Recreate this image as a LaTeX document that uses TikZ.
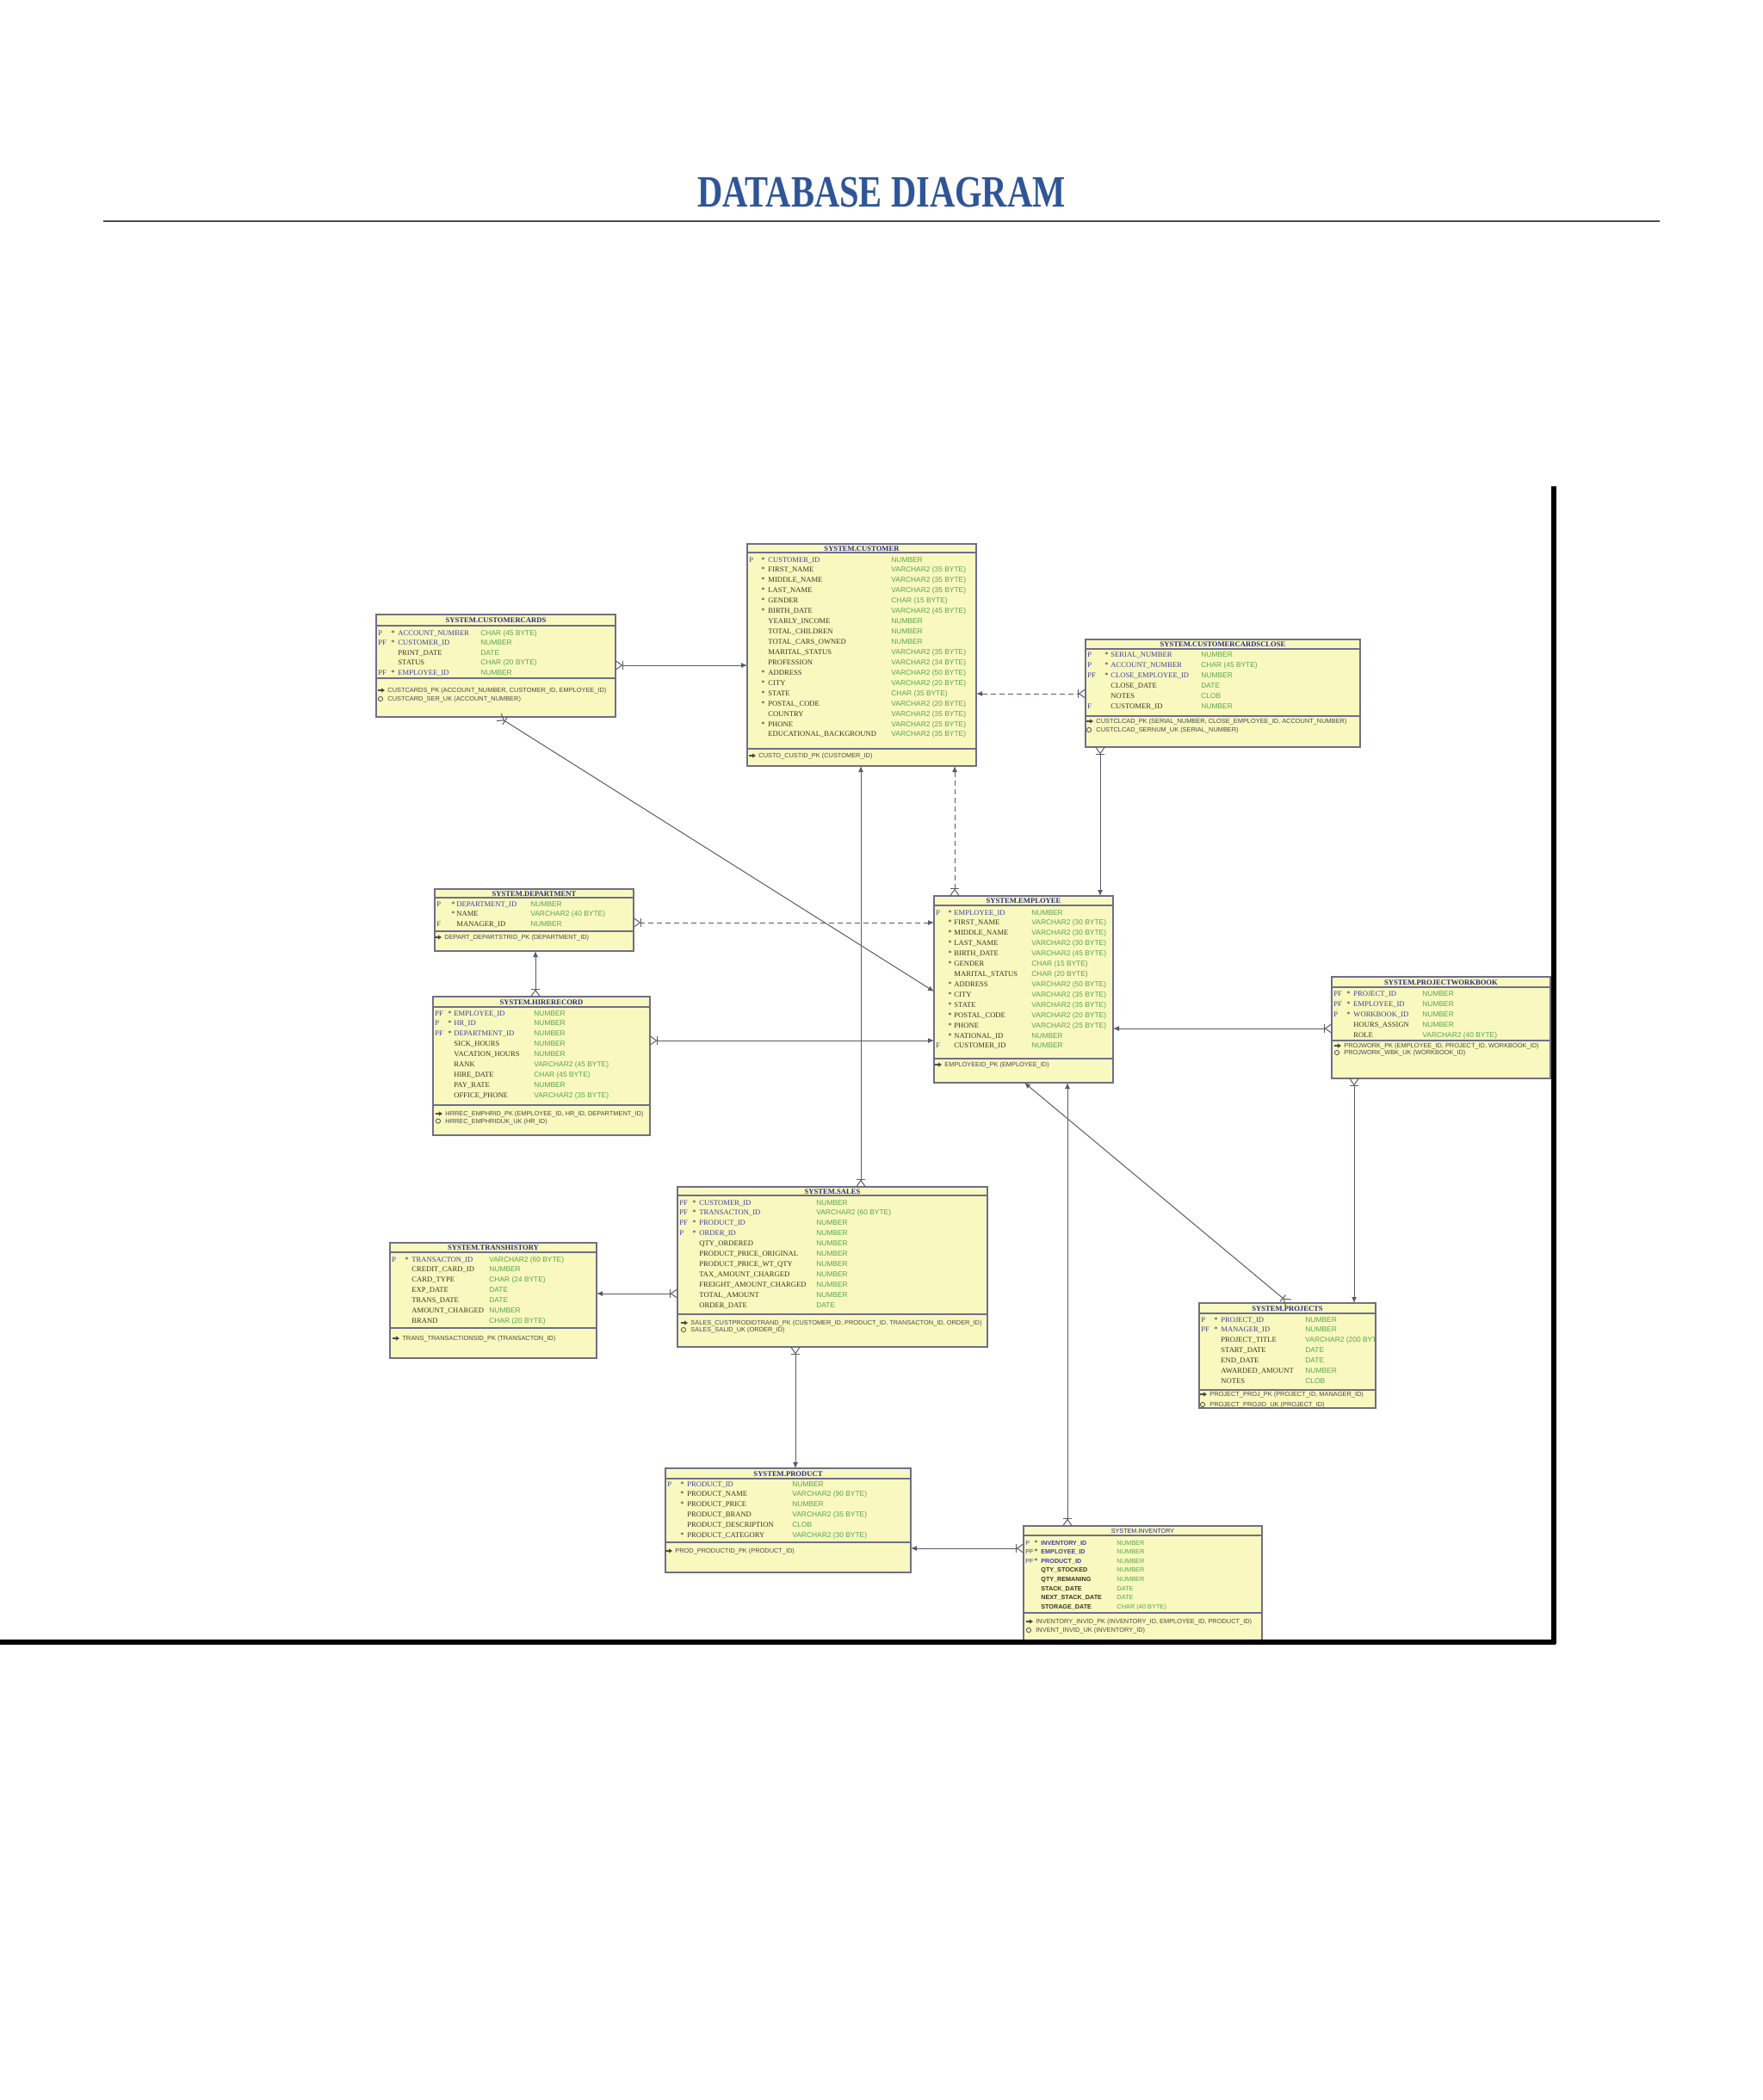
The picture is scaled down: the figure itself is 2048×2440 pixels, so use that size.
\documentclass[tikz,border=0pt]{standalone}
\usepackage{fontspec}
\setmainfont{Liberation Serif}
\setsansfont{Liberation Sans}
\usepackage{graphicx}
\usetikzlibrary{arrows.meta,fit,calc}
\definecolor{fillc}{HTML}{F9F9BF}
\definecolor{bordc}{HTML}{6E6E8C}
\definecolor{ttlc}{HTML}{2A2A8C}
\definecolor{colk}{HTML}{4040A0}
\definecolor{coln}{HTML}{3A3424}
\definecolor{typec}{HTML}{56A64A}
\definecolor{keyc}{HTML}{4A4A4A}
\definecolor{linec}{HTML}{5A5A6A}
\definecolor{pagetitlec}{HTML}{2F5597}
\tikzset{
  tblbox/.style={draw=bordc, fill=fillc, line width=0.6pt, inner sep=0pt, outer sep=0pt, rectangle},
  tblline/.style={draw=bordc, line width=0.6pt},
  ttl/.style={font=\fontsize{4.3}{5}\selectfont\bfseries, text=ttlc, inner sep=0pt},
  flag/.style={anchor=base west, inner sep=0pt, font=\fontsize{4.3}{5}\selectfont, text=colk},
  star/.style={anchor=base west, inner sep=0pt, font=\fontsize{4.3}{5}\selectfont, text=coln},
  fname/.style={anchor=base west, inner sep=0pt, font=\fontsize{4.3}{5}\selectfont},
  ftype/.style={anchor=base west, inner sep=0pt, font=\sffamily\fontsize{4.2}{5}\selectfont, text=typec},
  keyt/.style={anchor=base west, inner sep=0pt, font=\sffamily\fontsize{3.7}{4.5}\selectfont, text=keyc},
  rel/.style={draw=linec, line width=0.5pt, {Latex[length=3.5pt,width=3pt]}-{Bar[width=5pt] Straight Barb[reversed,length=3.5pt,width=5pt]}},
  reldash/.style={rel, dash pattern=on 3pt off 2pt},
}
\newcommand\tablebox[8]{%
  \node[tblbox, fit={(#2,#3) (#4,#5)}] (#1) {};
  \draw[tblline] (#2,#6) -- (#4,#6);
  \draw[tblline] (#2,#7) -- (#4,#7);
  \node[ttl] (#1title) at ({(#2+#4)/2},{(#3+#6)/2+0.5}) {#8};
}
\newcommand\rows[8]{%
  \foreach \c/\f/\s/\n/\t [count=\i] in {#8}{%
    \pgfmathsetmacro\yy{#6+(\i-1)*#7+3}%
    \node[flag] (#1f\i) at (#2,\yy) {\f};
    \node[star] (#1s\i) at (#3,\yy) {\s};
    \node[fname, text=col\c] (#1n\i) at (#4,\yy) {\n};
    \node[ftype] (#1t\i) at (#5,\yy) {\t};
  }}
\newcommand\iconpk[2]{%
  \fill[keyc] (#1,#2-1.2) rectangle (#1+5,#2+1.2);
  \fill[keyc] (#1+4,#2-2.6) -- (#1+8,#2) -- (#1+4,#2+2.6) -- cycle;}
\newcommand\iconuk[2]{%
  \draw[keyc, line width=0.4pt] (#1+3,#2) circle[radius=1.3pt];}
\newcommand\keyrows[5]{%
  \foreach \k/\txt [count=\i] in {#5}{%
    \pgfmathsetmacro\yy{#3+(\i-1)*#4}%
    \csname icon\k\endcsname{#2}{\yy}
    \node[keyt] (#1k\i) at (#2+11,\yy+2.7) {\txt};
  }}
\begin{document}
\begin{tikzpicture}[x=0.5pt,y=-0.5pt]
\useasboundingbox (0,0) rectangle (2048,2440);

% page title
\node[font=\fontsize{26}{30}\selectfont\bfseries, text=pagetitlec, inner sep=0pt] (pagetitle) at (1024,224) {\scalebox{0.78}[1]{DATABASE DIAGRAM}};
\draw[black!70, line width=0.6pt] (120,257) coordinate (rulea) -- (1928,257) coordinate (ruleb);

% CUSTOMERCARDS
\tablebox{cards}{437}{714}{715}{833}{727}{788}{SYSTEM.CUSTOMERCARDS}
\rows{cards}{439}{454}{462}{558}{735}{11.5}{k/P/*/ACCOUNT\_NUMBER/CHAR (45 BYTE), k/PF/*/CUSTOMER\_ID/NUMBER, n///PRINT\_DATE/DATE, n///STATUS/CHAR (20 BYTE), k/PF/*/EMPLOYEE\_ID/NUMBER}
\keyrows{cards}{439}{802}{10}{pk/{CUSTCARDS\_PK (ACCOUNT\_NUMBER, CUSTOMER\_ID, EMPLOYEE\_ID)}, uk/{CUSTCARD\_SER\_UK (ACCOUNT\_NUMBER)}}

% CUSTOMER
\tablebox{cust}{868}{632}{1134}{890}{642}{870}{SYSTEM.CUSTOMER}
\rows{cust}{870}{884}{892}{1035}{650}{11.94}{k/P/*/CUSTOMER\_ID/NUMBER, n//*/FIRST\_NAME/VARCHAR2 (35 BYTE), n//*/MIDDLE\_NAME/VARCHAR2 (35 BYTE), n//*/LAST\_NAME/VARCHAR2 (35 BYTE), n//*/GENDER/CHAR (15 BYTE), n//*/BIRTH\_DATE/VARCHAR2 (45 BYTE), n///YEARLY\_INCOME/NUMBER, n///TOTAL\_CHILDREN/NUMBER, n///TOTAL\_CARS\_OWNED/NUMBER, n///MARITAL\_STATUS/VARCHAR2 (35 BYTE), n///PROFESSION/VARCHAR2 (34 BYTE), n//*/ADDRESS/VARCHAR2 (50 BYTE), n//*/CITY/VARCHAR2 (20 BYTE), n//*/STATE/CHAR (35 BYTE), n//*/POSTAL\_CODE/VARCHAR2 (20 BYTE), n///COUNTRY/VARCHAR2 (35 BYTE), n//*/PHONE/VARCHAR2 (25 BYTE), n///EDUCATIONAL\_BACKGROUND/VARCHAR2 (35 BYTE)}
\keyrows{cust}{870}{878}{10}{pk/{CUSTO\_CUSTID\_PK (CUSTOMER\_ID)}}

% CUSTOMERCARDSCLOSE
\tablebox{close}{1261}{743}{1580}{868}{754}{832}{SYSTEM.CUSTOMERCARDSCLOSE}
\rows{close}{1263}{1283}{1290}{1395}{760}{12}{k/P/*/SERIAL\_NUMBER/NUMBER, k/P/*/ACCOUNT\_NUMBER/CHAR (45 BYTE), k/PF/*/CLOSE\_EMPLOYEE\_ID/NUMBER, n///CLOSE\_DATE/DATE, n///NOTES/CLOB, n/F//CUSTOMER\_ID/NUMBER}
\keyrows{close}{1262}{838}{10}{pk/{CUSTCLCAD\_PK (SERIAL\_NUMBER, CLOSE\_EMPLOYEE\_ID, ACCOUNT\_NUMBER)}, uk/{CUSTCLCAD\_SERNUM\_UK (SERIAL\_NUMBER)}}

% DEPARTMENT
\tablebox{dept}{505}{1033}{736}{1105}{1043}{1082}{SYSTEM.DEPARTMENT}
\rows{dept}{507}{524}{530}{616}{1050}{11.7}{k/P/*/DEPARTMENT\_ID/NUMBER, n//*/NAME/VARCHAR2 (40 BYTE), n/F//MANAGER\_ID/NUMBER}
\keyrows{dept}{505}{1089}{10}{pk/{DEPART\_DEPARTSTRID\_PK (DEPARTMENT\_ID)}}

% HIRERECORD
\tablebox{hire}{503}{1158}{755}{1319}{1170}{1284}{SYSTEM.HIRERECORD}
\rows{hire}{505}{520}{527}{620}{1177}{11.9}{k/PF/*/EMPLOYEE\_ID/NUMBER, k/P/*/HR\_ID/NUMBER, k/PF/*/DEPARTMENT\_ID/NUMBER, n///SICK\_HOURS/NUMBER, n///VACATION\_HOURS/NUMBER, n///RANK/VARCHAR2 (45 BYTE), n///HIRE\_DATE/CHAR (45 BYTE), n///PAY\_RATE/NUMBER, n///OFFICE\_PHONE/VARCHAR2 (35 BYTE)}
\keyrows{hire}{506}{1294}{8.5}{pk/{HRREC\_EMPHRID\_PK (EMPLOYEE\_ID, HR\_ID, DEPARTMENT\_ID)}, uk/{HRREC\_EMPHRIDUK\_UK (HR\_ID)}}

% EMPLOYEE
\tablebox{emp}{1085}{1041}{1293}{1258}{1052}{1230}{SYSTEM.EMPLOYEE}
\rows{emp}{1087}{1101}{1108}{1198}{1060}{11.92}{k/P/*/EMPLOYEE\_ID/NUMBER, n//*/FIRST\_NAME/VARCHAR2 (30 BYTE), n//*/MIDDLE\_NAME/VARCHAR2 (30 BYTE), n//*/LAST\_NAME/VARCHAR2 (30 BYTE), n//*/BIRTH\_DATE/VARCHAR2 (45 BYTE), n//*/GENDER/CHAR (15 BYTE), n///MARITAL\_STATUS/CHAR (20 BYTE), n//*/ADDRESS/VARCHAR2 (50 BYTE), n//*/CITY/VARCHAR2 (35 BYTE), n//*/STATE/VARCHAR2 (35 BYTE), n//*/POSTAL\_CODE/VARCHAR2 (20 BYTE), n//*/PHONE/VARCHAR2 (25 BYTE), n//*/NATIONAL\_ID/NUMBER, n/F//CUSTOMER\_ID/NUMBER}
\keyrows{emp}{1086}{1237}{10}{pk/{EMPLOYEEID\_PK (EMPLOYEE\_ID)}}

% PROJECTWORKBOOK
\tablebox{pwb}{1547}{1135}{1801}{1253}{1147}{1209}{SYSTEM.PROJECTWORKBOOK}
\rows{pwb}{1549}{1564}{1572}{1652}{1154}{12}{k/PF/*/PROJECT\_ID/NUMBER, k/PF/*/EMPLOYEE\_ID/NUMBER, k/P/*/WORKBOOK\_ID/NUMBER, n///HOURS\_ASSIGN/NUMBER, n///ROLE/VARCHAR2 (40 BYTE)}
\keyrows{pwb}{1550}{1215}{8}{pk/{PROJWORK\_PK (EMPLOYEE\_ID, PROJECT\_ID, WORKBOOK\_ID)}, uk/{PROJWORK\_WBK\_UK (WORKBOOK\_ID)}}

% SALES
\tablebox{sales}{787}{1379}{1147}{1565}{1389}{1527}{SYSTEM.SALES}
\rows{sales}{789}{804}{812}{948}{1397}{11.9}{k/PF/*/CUSTOMER\_ID/NUMBER, k/PF/*/TRANSACTON\_ID/VARCHAR2 (60 BYTE), k/PF/*/PRODUCT\_ID/NUMBER, k/P/*/ORDER\_ID/NUMBER, n///QTY\_ORDERED/NUMBER, n///PRODUCT\_PRICE\_ORIGINAL/NUMBER, n///PRODUCT\_PRICE\_WT\_QTY/NUMBER, n///TAX\_AMOUNT\_CHARGED/NUMBER, n///FREIGHT\_AMOUNT\_CHARGED/NUMBER, n///TOTAL\_AMOUNT/NUMBER, n///ORDER\_DATE/DATE}
\keyrows{sales}{791}{1537}{8}{pk/{SALES\_CUSTPRODIDTRAND\_PK (CUSTOMER\_ID, PRODUCT\_ID, TRANSACTON\_ID, ORDER\_ID)}, uk/{SALES\_SALID\_UK (ORDER\_ID)}}

% TRANSHISTORY
\tablebox{trans}{453}{1444}{693}{1578}{1455}{1543}{SYSTEM.TRANSHISTORY}
\rows{trans}{455}{470}{478}{568}{1463}{11.85}{k/P/*/TRANSACTON\_ID/VARCHAR2 (60 BYTE), n///CREDIT\_CARD\_ID/NUMBER, n///CARD\_TYPE/CHAR (24 BYTE), n///EXP\_DATE/DATE, n///TRANS\_DATE/DATE, n///AMOUNT\_CHARGED/NUMBER, n///BRAND/CHAR (20 BYTE)}
\keyrows{trans}{456}{1555}{10}{pk/{TRANS\_TRANSACTIONSID\_PK (TRANSACTON\_ID)}}

% PROJECTS
\tablebox{proj}{1393}{1514}{1598}{1636}{1526}{1615}{SYSTEM.PROJECTS}
\begin{scope}
\clip (1393,1514) rectangle (1597,1635);
\rows{proj}{1395}{1410}{1418}{1516}{1533}{11.85}{k/P/*/PROJECT\_ID/NUMBER, k/PF/*/MANAGER\_ID/NUMBER, n///PROJECT\_TITLE/VARCHAR2 (200 BYTE), n///START\_DATE/DATE, n///END\_DATE/DATE, n///AWARDED\_AMOUNT/NUMBER, n///NOTES/CLOB}
\keyrows{proj}{1394}{1620}{12}{pk/{PROJECT\_PROJ\_PK (PROJECT\_ID, MANAGER\_ID)}, uk/{PROJECT\_PROJID\_UK (PROJECT\_ID)}}
\end{scope}

% PRODUCT
\tablebox{prod}{773}{1706}{1058}{1827}{1718}{1792}{SYSTEM.PRODUCT}
\rows{prod}{775}{790}{798}{920}{1724}{11.8}{k/P/*/PRODUCT\_ID/NUMBER, n//*/PRODUCT\_NAME/VARCHAR2 (90 BYTE), n//*/PRODUCT\_PRICE/NUMBER, n///PRODUCT\_BRAND/VARCHAR2 (35 BYTE), n///PRODUCT\_DESCRIPTION/CLOB, n//*/PRODUCT\_CATEGORY/VARCHAR2 (30 BYTE)}
\keyrows{prod}{773}{1802}{10}{pk/{PROD\_PRODUCTID\_PK (PRODUCT\_ID)}}

% INVENTORY (sans serif rendering)
\begin{scope}[
  ttl/.style={font=\sffamily\fontsize{3.6}{4.5}\selectfont, text=ttlc, inner sep=0pt},
  fname/.style={anchor=base west, inner sep=0pt, font=\sffamily\bfseries\fontsize{3.6}{4.5}\selectfont},
  flag/.style={anchor=base west, inner sep=0pt, font=\sffamily\fontsize{3.6}{4.5}\selectfont, text=colk},
  ftype/.style={anchor=base west, inner sep=0pt, font=\sffamily\fontsize{3.7}{4.5}\selectfont, text=typec}]
\tablebox{inv}{1189}{1773}{1466}{1906}{1784}{1874}{SYSTEM.INVENTORY}
\rows{inv}{1191}{1201}{1209}{1297}{1792}{10.6}{k/P/*/INVENTORY\_ID/NUMBER, k/PF/*/EMPLOYEE\_ID/NUMBER, k/PF/*/PRODUCT\_ID/NUMBER, n///QTY\_STOCKED/NUMBER, n///QTY\_REMANING/NUMBER, n///STACK\_DATE/DATE, n///NEXT\_STACK\_DATE/DATE, n///STORAGE\_DATE/CHAR (40 BYTE)}
\keyrows{inv}{1192}{1884}{10}{pk/{INVENTORY\_INVID\_PK (INVENTORY\_ID, EMPLOYEE\_ID, PRODUCT\_ID)}, uk/{INVENT\_INVID\_UK (INVENTORY\_ID)}}
\end{scope}

% relationships (arrow at referenced table, crow's foot at referencing table)
\draw[rel] (cust.west |- 0,773) -- (cards.east |- 0,773);
\draw[rel] (emp.west |- 0,1152) -- (cards.south -| 579,0);
\draw[reldash] (cust.east |- 0,806) -- (close.west |- 0,806);
\draw[rel] (emp.north -| 1278,0) -- (close.south -| 1278,0);
\draw[reldash] (cust.south -| 1109,0) -- (emp.north -| 1109,0);
\draw[rel] (cust.south -| 1000,0) -- (sales.north -| 1000,0);
\draw[reldash] (emp.west |- 0,1072) -- (dept.east |- 0,1072);
\draw[rel] (dept.south -| 622,0) -- (hire.north -| 622,0);
\draw[rel] (emp.west |- 0,1209) -- (hire.east |- 0,1209);
\draw[rel] (emp.east |- 0,1195) -- (pwb.west |- 0,1195);
\draw[rel] (proj.north -| 1573,0) -- (pwb.south -| 1573,0);
\draw[rel] (emp.south -| 1190,0) -- (proj.north -| 1497,0);
\draw[rel] (emp.south -| 1240,0) -- (inv.north -| 1240,0);
\draw[rel] (trans.east |- 0,1503) -- (sales.west |- 0,1503);
\draw[rel] (prod.north -| 924,0) -- (sales.south -| 924,0);
\draw[rel] (prod.east |- 0,1799) -- (inv.west |- 0,1799);

% black frame of the screenshot
\draw[black, line width=3pt] (1805,565) coordinate (framea) -- (1805,1910) coordinate (frameb);
\draw[black, line width=3pt] (0,1908) coordinate (framec) -- (1806.5,1908) coordinate (framed);
\end{tikzpicture}
\end{document}
